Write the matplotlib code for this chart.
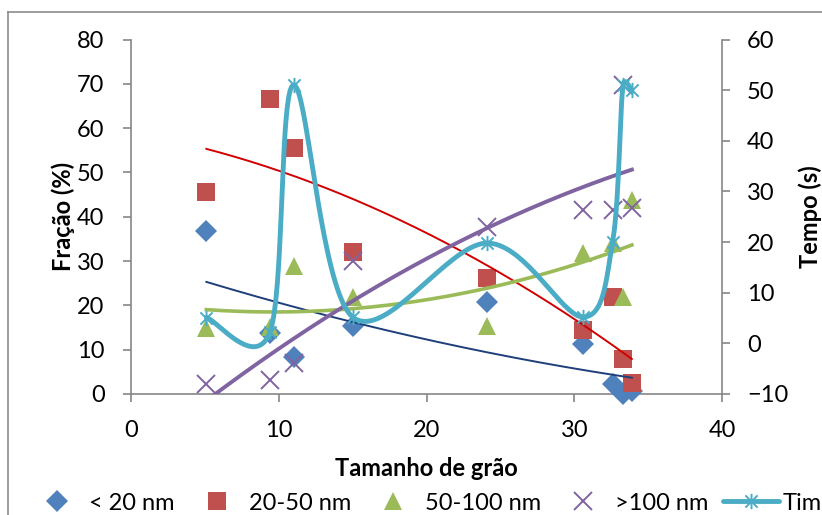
import numpy as np
import matplotlib
matplotlib.use("Agg", force=True)
import matplotlib.pyplot as plt
from matplotlib.path import Path
from matplotlib.lines import Line2D

plt.rcParams["font.family"] = ["Lato", "DejaVu Sans"]

# grain size (x) shared by all series
grain = [5.1, 9.4, 11.0, 15.0, 24.1, 30.6, 32.6, 33.3, 33.9]

frac_lt20 = [36.8, 13.7, 8.4, 15.4, 20.8, 11.2, 2.3, 0.0, 0.6]
frac_20_50 = [45.5, 66.6, 55.6, 32.1, 26.2, 14.4, 21.8, 7.8, 2.5]
frac_50_100 = [14.8, 15.1, 28.9, 21.9, 15.3, 31.9, 34.1, 21.9, 43.7]
frac_gt100 = [2.3, 3.1, 6.9, 30.1, 37.6, 41.5, 41.5, 69.8, 41.9]
time_s = [5.1, 2.2, 51.0, 5.2, 19.8, 5.2, 20.1, 51.0, 50.0]

labels = ["< 20 nm", "20-50 nm", "50-100 nm", ">100 nm", "Time"]

GRAY = "#868686"
TS = 17

W, H = 822, 515
fig = plt.figure(figsize=(W / 100, H / 100), dpi=100)
ax = fig.add_axes([131 / W, 1 - 394 / H, (722 - 131) / W, (394 - 39.5) / H])
ax2 = ax.twinx()

# chart border (partially cut off)
fig.add_artist(Line2D([8 / W, 1.0], [1 - 12 / H] * 2, color="#8c8c8c", lw=1.2))
fig.add_artist(Line2D([8 / W] * 2, [0, 1 - 12 / H], color="#8c8c8c", lw=1.2))

ax.set_xlim(0, 40)
ax.set_ylim(0, 80)
ax2.set_ylim(-10, 60)
ax.set_xticks(range(0, 41, 10))
ax.set_yticks(range(0, 81, 10))
ax2.set_yticks(range(-10, 61, 10))

for a in (ax, ax2):
    for s in a.spines.values():
        s.set_visible(False)
        s.set_color(GRAY)
        s.set_linewidth(1.2)
ax.spines["left"].set_visible(True)
ax.spines["bottom"].set_visible(True)
ax2.spines["right"].set_visible(True)

ax.tick_params(axis="y", direction="out", length=6, width=1.2, color=GRAY,
               pad=13, labelsize=TS)
ax.tick_params(axis="x", direction="out", length=6, width=1.2, color=GRAY,
               pad=13, labelsize=TS)
ax2.tick_params(axis="y", direction="out", length=6, width=1.2, color=GRAY,
                pad=12, labelsize=TS)

star = Path([(-1, -1), (1, 1), (-1, 1), (1, -1), (0, -1.25), (0, 1.25)],
            [Path.MOVETO, Path.LINETO, Path.MOVETO, Path.LINETO,
             Path.MOVETO, Path.LINETO])

series = [
    (frac_lt20, "D", 11, "#4F81BD", "#1F3F7A", 1.4),
    (frac_20_50, "s", 13, "#C0504D", "#D00000", 1.4),
    (frac_50_100, "^", 13, "#9BBB59", "#9BBB59", 2.6),
    (frac_gt100, "x", 13, "#8064A2", "#8064A2", 2.8),
]

handles = []
xs = np.array(grain)
xx = np.linspace(xs.min(), xs.max(), 200)
for vals, mk, ms, col, tcol, tlw in series:
    if mk == "x":
        h, = ax.plot(grain, vals, ls="none", marker=mk, ms=ms, mew=1.4,
                     color=col, clip_on=False, zorder=3)
    else:
        h, = ax.plot(grain, vals, ls="none", marker=mk, ms=ms, mew=0,
                     color=col, clip_on=False, zorder=3)
    handles.append(h)
    # polynomial (order 2) trendline, like Excel
    coef = np.polyfit(xs, np.array(vals), 2)
    ax.plot(xx, np.polyval(coef, xx), color=tcol, lw=tlw, zorder=4)

# smoothed line: bezier through the points in display space,
# tangents shortened next to very short segments
pts = ax2.transData.transform(np.column_stack([grain, time_s]))
n = len(pts)


def _tangent(i, seg_len):
    d = pts[min(i + 1, n - 1)] - pts[max(i - 1, 0)]
    span = np.hypot(*d)
    f = 1 / 6 if span == 0 else min(1 / 6, seg_len / span)
    return d * f


curve = []
for i in range(n - 1):
    p1, p2 = pts[i], pts[i + 1]
    L = np.hypot(*(p2 - p1))
    c1 = p1 + _tangent(i, L)
    c2 = p2 - _tangent(i + 1, L)
    t = np.linspace(0, 1, 40)[:, None]
    seg = ((1 - t) ** 3) * p1 + 3 * t * (1 - t) ** 2 * c1 + 3 * t ** 2 * (1 - t) * c2 + t ** 3 * p2
    curve.append(seg if i == 0 else seg[1:])
curve = ax2.transData.inverted().transform(np.vstack(curve))
ax2.plot(curve[:, 0], curve[:, 1], color="#4BACC6", lw=3.5, zorder=5,
         solid_capstyle="round")
ax2.plot(grain, time_s, ls="none", marker=star, ms=11, mew=1.4,
         color="#4BACC6", clip_on=False, zorder=6)
handles.append(Line2D([], [], color="#4BACC6", lw=3.5, marker=star, ms=11, mew=1.4,
                      solid_capstyle="round"))

ax.set_ylabel("Fração (%)", fontsize=TS, fontweight="bold")
ax.yaxis.set_label_coords(-0.095, 0.5)
ax2.set_ylabel("Tempo (s)", fontsize=TS, fontweight="bold")
ax2.yaxis.set_label_coords(1.13, 0.5)
ax.set_xlabel("Tamanho de grão", fontsize=TS, fontweight="bold")
ax.xaxis.set_label_coords(0.5, -0.178)

fig.legend(handles, labels, loc="center left", bbox_to_anchor=(29 / W, 1 - 503 / H),
           ncol=5, frameon=False, fontsize=TS, handlelength=2.37,
           handletextpad=0.17, columnspacing=0.6, borderpad=0, borderaxespad=0)

fig.savefig("out.png", dpi=100)
